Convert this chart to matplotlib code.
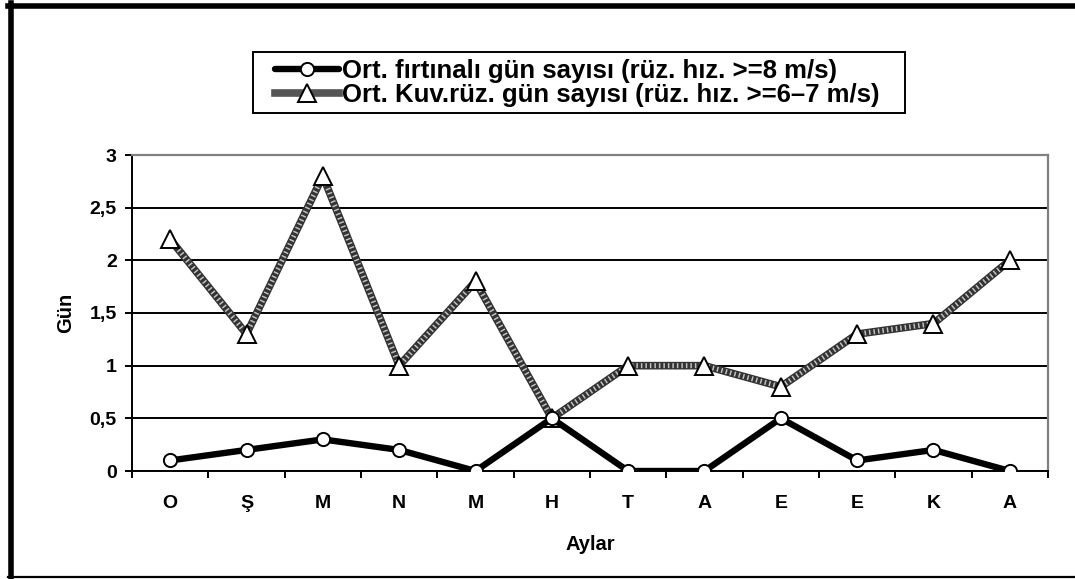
import numpy as np
import matplotlib
matplotlib.use("Agg")
import matplotlib.pyplot as plt
from matplotlib.lines import Line2D
from matplotlib.patches import Rectangle

plt.rcParams['font.family'] = ['Liberation Sans', 'DejaVu Sans']

# data
aylar = ["O", "Ş", "M", "N", "M", "H", "T", "A", "E", "E", "K", "A"]
firtinali = [0.1, 0.2, 0.3, 0.2, 0.0, 0.5, 0.0, 0.0, 0.5, 0.1, 0.2, 0.0]
kuvvetli = [2.2, 1.3, 2.8, 1.0, 1.8, 0.5, 1.0, 1.0, 0.8, 1.3, 1.4, 2.0]
label1 = "Ort. fırtınalı gün sayısı (rüz. hız. >=8 m/s)"
label2 = "Ort. Kuv.rüz. gün sayısı (rüz. hız. >=6–7 m/s)"

fig = plt.figure(figsize=(10.75, 5.79), dpi=100)
ax = fig.add_axes([132/1075, 1 - 471/579, (1048-132)/1075, (471-155)/579])

x = np.arange(len(aylar))

# grid
ax.set_ylim(0, 3)
ax.set_xlim(-0.5, len(aylar) - 0.5)
ax.set_yticks(np.arange(0, 3.01, 0.5))
ax.yaxis.grid(True, color='black', linewidth=1.4)
ax.set_axisbelow(True)

# kuvvetli ruzgar serisi: dokulu (damalı) cizgi
ax.plot(x, kuvvetli, color='#333333', linewidth=5.5, zorder=3)
ax.plot(x, kuvvetli, color='white', linewidth=3.6, linestyle=(0, (0.3, 0.6)),
        zorder=3, alpha=0.7)
ax.plot(x, kuvvetli, linestyle='none', marker='^', markersize=12.5,
        markerfacecolor='white', markeredgecolor='black', markeredgewidth=1.4,
        zorder=4)

# firtinali gun serisi
ax.plot(x, firtinali, color='black', linewidth=4.6, marker='o', markersize=9.5,
        markerfacecolor='white', markeredgecolor='black', markeredgewidth=1.4,
        zorder=5)

# axes style
for s in ['top', 'right']:
    ax.spines[s].set_color('#808080')
    ax.spines[s].set_linewidth(1.6)
for s in ['left', 'bottom']:
    ax.spines[s].set_color('black')
    ax.spines[s].set_linewidth(1.4)

ax.set_yticklabels(["0", "0,5", "1", "1,5", "2", "2,5", "3"])
ax.set_xticks(x)
ax.set_xticklabels(aylar)
ax.set_xticks(np.arange(-0.5, len(aylar), 1.0), minor=True)
ax.tick_params(axis='x', which='major', length=0, pad=17, labelsize=14)
ax.tick_params(axis='x', which='minor', length=5, width=1.4, direction='out')
ax.tick_params(axis='y', length=5, width=1.4, direction='out', pad=6,
               labelsize=14)
for t in ax.get_xticklabels() + ax.get_yticklabels():
    t.set_fontweight('bold')

ax.set_ylabel("Gün", fontsize=14.5, fontweight='bold', labelpad=10)
ax.set_xlabel("Aylar", fontsize=14.5, fontweight='bold', labelpad=17)

# legend
h1 = Line2D([], [], color='black', linewidth=4.6, marker='o', markersize=9.5,
            markerfacecolor='white', markeredgecolor='black',
            markeredgewidth=1.4, solid_capstyle='round')
h2 = Line2D([], [], color='#555555', linewidth=5.5, marker='^',
            markersize=12.5, markerfacecolor='white', markeredgecolor='black',
            markeredgewidth=1.4)
leg = fig.legend([h1, h2], [label1, label2], loc='center left',
                 bbox_to_anchor=(262/1075, 1 - 83/579), frameon=False,
                 handlelength=2.5, handletextpad=0.1, borderpad=0.0,
                 labelspacing=0.0, prop={'weight': 'bold', 'size': 18.5})
fig.add_artist(Rectangle((253/1075, 1 - 113/579), (905-253)/1075, 61/579,
                         transform=fig.transFigure, facecolor='none',
                         edgecolor='black', linewidth=1.4))

# outer border of the chart
fig.add_artist(Line2D([10.5/1075, 10.5/1075], [1 - 3/579, 1 - 577/579],
                      transform=fig.transFigure, color='black', linewidth=4))
fig.add_artist(Line2D([8/1075, 1.0], [1 - 5.5/579, 1 - 5.5/579],
                      transform=fig.transFigure, color='black', linewidth=4))
fig.add_artist(Line2D([8/1075, 1.0], [1 - 576.5/579, 1 - 576.5/579],
                      transform=fig.transFigure, color='black', linewidth=1.6))

fig.savefig("out.png", dpi=100)
